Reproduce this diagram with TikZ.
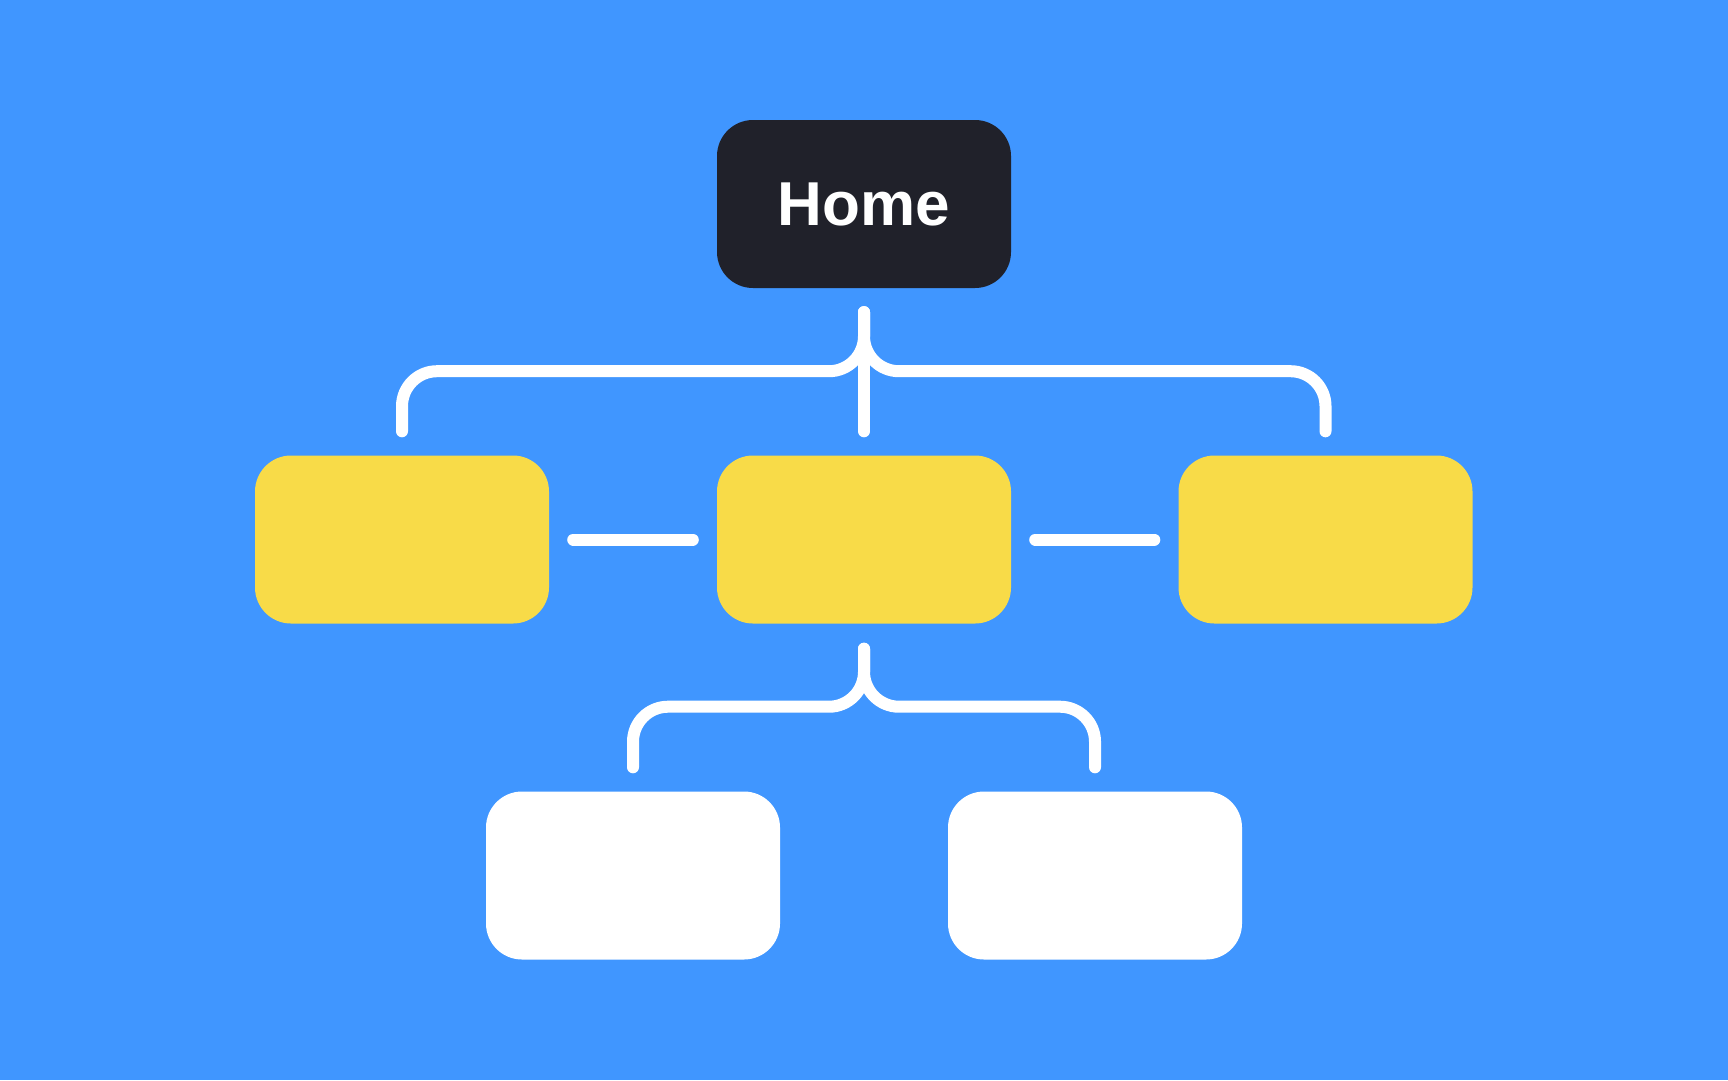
\documentclass[tikz,border=0pt]{standalone}
\usepackage{fontspec}
\setmainfont{Liberation Sans}
\usetikzlibrary{calc}
\definecolor{bgblue}{RGB}{64,150,255}
\definecolor{boxyellow}{RGB}{248,219,72}
\definecolor{boxdark}{RGB}{32,33,42}
\tikzset{
  card/.style={rectangle, rounded corners=36pt, minimum width=294pt, minimum height=168pt, inner sep=0pt, draw=none},
  homebox/.style={card, fill=boxdark, text=white, font=\fontsize{62}{62}\selectfont\bfseries},
  ybox/.style={card, fill=boxyellow},
  wbox/.style={card, fill=white},
  conn/.style={draw=white, line width=12pt, line cap=round, rounded corners=35pt}
}
\begin{document}
\begin{tikzpicture}[x=1pt,y=-1pt]
\fill[bgblue] (0,0) rectangle (1728,1080);
\useasboundingbox (0,0) rectangle (1728,1080);
\node[homebox] (home) at (864,204) {Home};
\node[ybox] (y1) at (402,539.5) {};
\node[ybox] (y2) at (864,539.5) {};
\node[ybox] (y3) at (1325.5,539.5) {};
\node[wbox] (w1) at (633,875.5) {};
\node[wbox] (w2) at (1095,875.5) {};
% top connector
\coordinate (hs) at ([yshift=-24pt]home.south);
\coordinate (bar1) at ([yshift=-83pt]home.south);
\draw[conn] (hs) -- (bar1) -| ([yshift=24pt]y1.north);
\draw[conn] (hs) -- (bar1) -| ([yshift=24pt]y3.north);
\draw[conn, rounded corners=0pt] (hs) -- ([yshift=24pt]y2.north);
% bottom connector
\coordinate (ys) at ([yshift=-25pt]y2.south);
\coordinate (bar2) at ([yshift=-83pt]y2.south);
\draw[conn] (ys) -- (bar2) -| ([yshift=24pt]w1.north);
\draw[conn] (ys) -- (bar2) -| ([yshift=24pt]w2.north);
% horizontal links
\draw[conn] ([xshift=24pt]y1.east) -- ([xshift=-24pt]y2.west);
\draw[conn] ([xshift=24pt]y2.east) -- ([xshift=-24pt]y3.west);
\end{tikzpicture}
\end{document}
